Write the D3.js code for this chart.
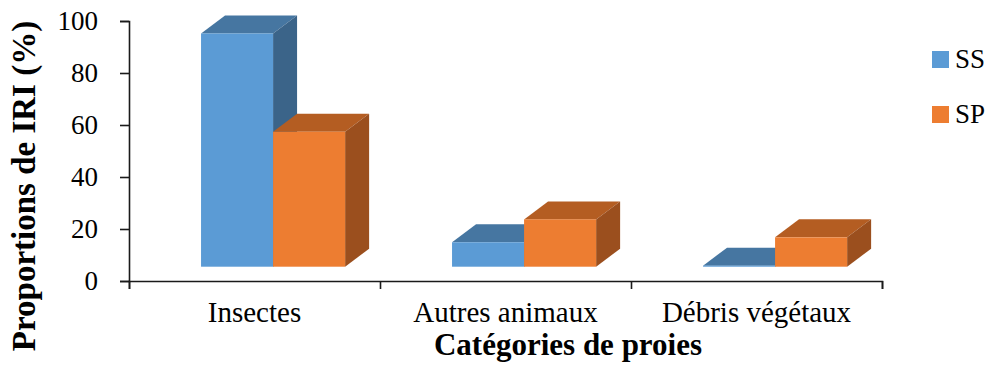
<!DOCTYPE html>
<meta charset="utf-8">
<script src="https://cdn.jsdelivr.net/npm/d3@7/dist/d3.min.js"></script>
<style>
  body { margin: 0; background: #fff; }
</style>
<svg id="graph" width="993" height="366"></svg>
<script>

// data
var categories = ["Insectes", "Autres animaux", "Débris végétaux"];
var seriesNames = ["SS", "SP"];
var ssValues = [89.7, 9.4, 0.4];
var spValues = [51.9, 18.2, 11.3];
var yTicks = [0, 20, 40, 60, 80, 100];

var FONT = "'Liberation Serif', 'Times New Roman', serif";

var svg = d3.select("#graph");

var x = d3.scaleBand().domain(categories).range([129, 882]),
    y = d3.scaleLinear().domain([0, 100]).range([281, 21]);

// colours: front, top, side
var colors = {
  SS: {front: "#5b9bd5", top: "#4676a1", side: "#3b6489"},
  SP: {front: "#ed7d31", top: "#b45d22", side: "#9b4f1e"}
};

// 3d look
var depth = {dx: 24, dy: -18},
    floorUp = 14.3,
    barW = x.bandwidth() * 0.287,
    startOff = x.bandwidth() * 0.287;

var series = [
  {name: "SS", values: ssValues},
  {name: "SP", values: spValues}
];

var bars = [];
categories.forEach(function(c, ci) {
  series.forEach(function(s, si) {
    bars.push({cat: c, name: s.name, value: s.values[ci], i: si});
  });
});

var g = svg.append("g");

bars.forEach(function(d) {
  var x0 = x(d.cat) + startOff + d.i * barW,
      x1 = x0 + barW,
      yb = y(0) - floorUp,
      yt = y(d.value) - floorUp,
      c = colors[d.name];
  var bar = g.append("g").attr("class", "bar");
  // top
  bar.append("path")
    .attr("d", "M" + x0 + "," + yt + "L" + (x0 + depth.dx) + "," + (yt + depth.dy) +
               "L" + (x1 + depth.dx) + "," + (yt + depth.dy) + "L" + x1 + "," + yt + "Z")
    .attr("fill", c.top);
  // side
  bar.append("path")
    .attr("d", "M" + x1 + "," + yt + "L" + (x1 + depth.dx) + "," + (yt + depth.dy) +
               "L" + (x1 + depth.dx) + "," + (yb + depth.dy) + "L" + x1 + "," + yb + "Z")
    .attr("fill", c.side);
  // front
  bar.append("rect")
    .attr("x", x0).attr("y", yt)
    .attr("width", barW).attr("height", Math.max(0.8, yb - yt))
    .attr("fill", c.front);
});

// y axis
var yAxis = svg.append("g")
    .attr("transform", "translate(129,0)")
    .call(d3.axisLeft(y).tickValues(yTicks).tickSize(9).tickPadding(22));
yAxis.selectAll("text").style("font-size", "27px");

// x axis: boundary ticks + labels
var edges = d3.scaleLinear().domain([0, categories.length]).range(x.range());
svg.append("g")
    .attr("transform", "translate(0,281)")
    .call(d3.axisBottom(edges).ticks(categories.length).tickSize(8).tickFormat(""));
var xLab = svg.append("g")
    .attr("transform", "translate(0,281)")
    .call(d3.axisBottom(x).tickSize(0).tickPadding(20));
xLab.select(".domain").remove();
xLab.selectAll("text").style("font-size", "29px");

svg.selectAll(".domain, .tick line")
    .attr("stroke", "#1a1a1a")
    .attr("stroke-width", 1.6);

// titles
svg.append("text")
    .attr("x", 568).attr("y", 355)
    .attr("text-anchor", "middle")
    .style("font-size", "31px").style("font-weight", "bold")
    .text("Catégories de proies");

svg.append("text")
    .attr("transform", "translate(35,186) rotate(-90)")
    .attr("text-anchor", "middle")
    .style("font-size", "33px").style("font-weight", "bold")
    .text("Proportions de IRI (%)");

// legend
var legend = svg.append("g").attr("transform", "translate(932,51)");
seriesNames.forEach(function(n, i) {
  var row = legend.append("g").attr("transform", "translate(0," + (i * 55) + ")");
  row.append("rect").attr("width", 17).attr("height", 17).attr("fill", colors[n].front);
  row.append("text").attr("x", 23).attr("y", 17).style("font-size", "27px").text(n);
});

svg.selectAll("text")
    .style("font-family", FONT)
    .attr("fill", "#000");

</script>
